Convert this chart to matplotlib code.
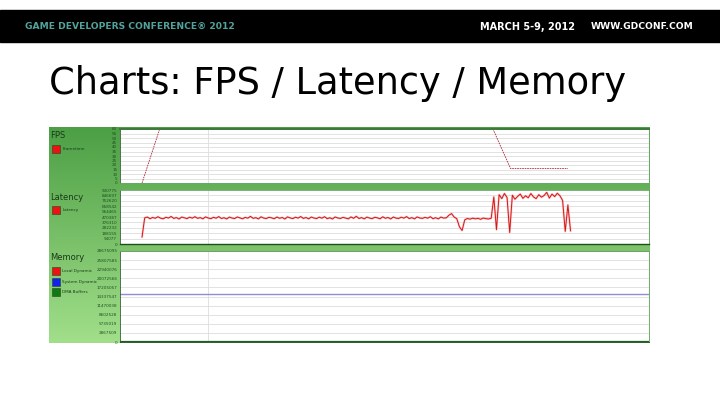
import numpy as np
import matplotlib.pyplot as plt
from matplotlib.patches import Rectangle

# ---- data ----
fps_t = [25, 55, 410, 423, 443, 470, 508]
fps_v = [0, 90, 90, 60, 16, 16, 16]
fps_ticks = [60, 55, 50, 45, 40, 35, 30, 25, 20, 15, 10, 5, 0]

# latency in thousands, one sample every 3 time units from t=25
latency_k = [
    122,
    455, 470, 440, 462, 448, 475, 450, 438, 466, 452, 480, 445, 460, 435, 470, 455, 442, 468, 450, 476,
    447, 460, 438, 472, 453, 441, 465, 449, 478, 444, 458, 436, 469, 452, 443, 471, 455, 439, 463, 450,
    482, 446, 459, 437, 474, 451, 444, 466, 455, 440, 470, 448, 462, 435, 473, 454, 442, 467, 451, 479,
    445, 461, 438, 470, 452, 443, 468, 449, 476, 441, 457, 436, 471, 453, 445, 464, 450, 438, 472, 447,
    483, 444, 460, 437, 469, 452, 441, 466, 455, 439, 474, 448, 462, 436, 470, 451, 444, 467, 450, 478,
    443, 459, 437, 472, 453, 446, 465, 449, 476, 440, 458, 437, 469, 452, 455, 500, 530,
    470, 440, 300, 235, 420,
    445, 432, 450, 438, 447, 430, 452, 441, 436, 448,
    820, 250, 860, 790, 880, 810, 200,
    850, 780, 830, 870, 795, 840, 805, 880, 820, 790, 860, 815, 845, 900, 800, 870, 825, 885, 840, 760,
    220, 680, 230,
]
latency_ticks = [940775, 846697, 752620, 658542, 564465, 470387, 376310, 282232, 188155, 94077, 0]

mem_t = [0, 600]
mem_local = [28.55e6, 28.55e6]
mem_system = [15.1e6, 15.1e6]
mem_dma = [0, 0]
mem_ticks = [28675095, 25807585, 22940076, 20072566, 17205057, 14337547,
             11470038, 8602528, 5735019, 2867509, 0]

W, H = 720, 405
fig = plt.figure(figsize=(7.2, 4.05), dpi=100)

# background layer in pixel coordinates
bg = fig.add_axes([0, 0, 1, 1])
bg.axis("off")
grad = np.linspace(0, 1, 256).reshape(-1, 1)
top_c = np.array([0x4c, 0x9f, 0x45]) / 255
bot_c = np.array([0xa2, 0xdf, 0x8a]) / 255
img = top_c + grad[..., None] * (bot_c - top_c)
bg.imshow(img, extent=(49, 650, 343, 127), aspect="auto", interpolation="bilinear")
bg.add_patch(Rectangle((0, 10), 720, 32, color="black"))
bg.set_xlim(0, W)
bg.set_ylim(H, 0)

bg.text(25, 26.5, "GAME DEVELOPERS CONFERENCE\u00ae 2012", color="#52a39c",
        fontsize=6.6, fontweight="bold", va="center", ha="left")
bg.text(480, 26.5, "MARCH 5-9, 2012", color="white", fontsize=7,
        fontweight="bold", va="center", ha="left")
bg.text(693, 26.5, "WWW.GDCONF.COM", color="white", fontsize=6.6,
        fontweight="bold", va="center", ha="right")
bg.text(49, 94, "Charts: FPS / Latency / Memory", fontsize=26.5,
        color="black", va="baseline", ha="left")

# legend area
legend_col = "#1a3a1a"
bg.text(50, 135, "FPS", fontsize=6, color=legend_col, va="center")
bg.text(50, 197, "Latency", fontsize=6, color=legend_col, va="center")
bg.text(50, 258, "Memory", fontsize=6, color=legend_col, va="center")
items = [(149, "#ee1111", "Frametime"), (210, "#ee1111", "Latency"),
         (271, "#ee1111", "Local Dynamic"), (282, "#1122ee", "System Dynamic"),
         (292, "#0f7a0f", "DMA Buffers")]
for y, c, lab in items:
    bg.add_patch(Rectangle((52, y - 4), 8, 8, facecolor=c, edgecolor="#224422", lw=0.4))
    bg.text(62.5, y, lab, fontsize=3, color=legend_col, va="center")


def panel(y0, y1):
    ax = fig.add_axes([120 / W, 1 - y1 / H, 529 / W, (y1 - y0) / H])
    ax.set_facecolor("white")
    ax.set_xlim(0, 600)
    ax.set_xticks([100])
    ax.set_xticklabels([])
    ax.tick_params(axis="both", length=0, labelsize=3, labelcolor="#1f4f1f", pad=2)
    ax.grid(True, color="#dddddd", lw=0.6)
    ax.set_axisbelow(True)
    for s in ax.spines.values():
        s.set_color("#6aa86a")
        s.set_linewidth(0.6)
    ax.spines["left"].set_color("#2f5f2f")
    return ax


ax1 = panel(129, 183)
ax1.plot(fps_t, fps_v, color="#b02838", lw=0.6, ls=(0, (2, 1)))
ax1.set_ylim(0, 60)
ax1.set_yticks(fps_ticks)
ax1.set_yticklabels([str(v) for v in fps_ticks])
ax1.spines["top"].set_color("#3a7a3a")
ax1.spines["top"].set_linewidth(1.4)

ax2 = panel(190, 244)
lat_t = 25 + 3 * np.arange(len(latency_k))
ax2.plot(lat_t, np.array(latency_k) * 1000, color="#ff9a9a", lw=1.6, alpha=0.5)
ax2.plot(lat_t, np.array(latency_k) * 1000, color="#d01818", lw=0.7)
ax2.set_ylim(0, 940775)
ax2.set_yticks(latency_ticks)
ax2.set_yticklabels([str(v) for v in latency_ticks])
ax2.spines["bottom"].set_color("#1d4d1d")
ax2.spines["bottom"].set_linewidth(1.0)

ax3 = panel(251, 342)
ax3.plot(mem_t, mem_local, color="#a8705c", lw=1.4)
ax3.plot(mem_t, mem_system, color="#8e8ed6", lw=1.0)
ax3.plot(mem_t, mem_dma, color="#1e5e1e", lw=1.6)
ax3.set_ylim(0, 28675095)
ax3.set_yticks(mem_ticks)
ax3.set_yticklabels([str(v) for v in mem_ticks])
ax3.spines["bottom"].set_color("#1d4d1d")

fig.savefig("out.png", dpi=100)
